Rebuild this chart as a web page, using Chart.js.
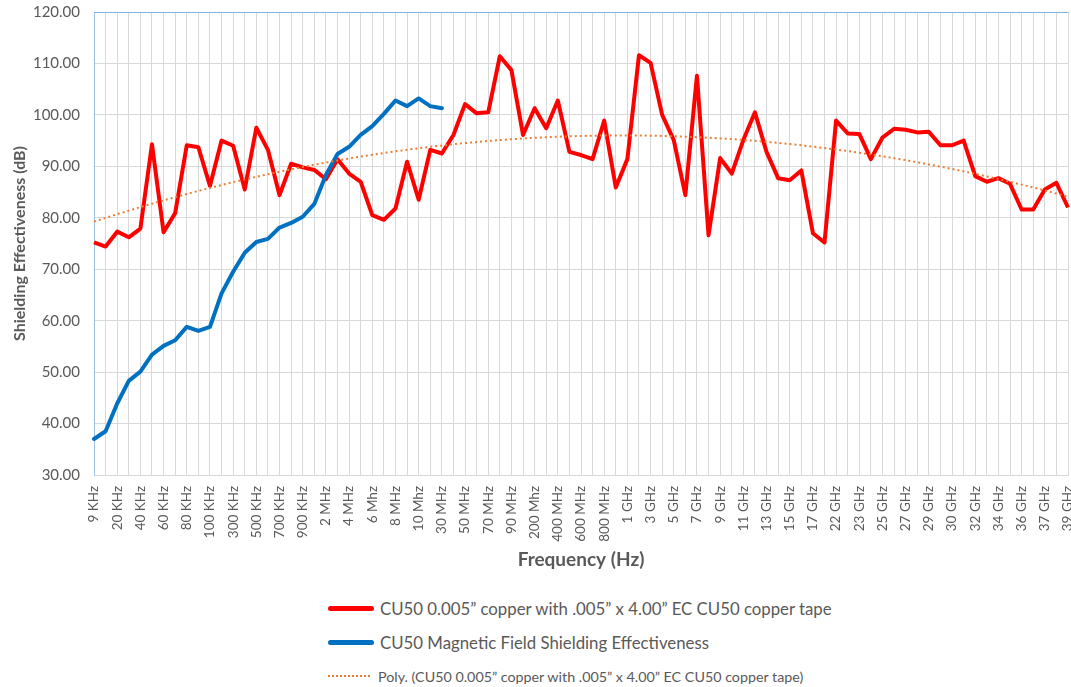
<!DOCTYPE html>
<html>
<head>
<meta charset="utf-8">
<script src="https://cdn.jsdelivr.net/npm/chart.js@4.4.1/dist/chart.umd.min.js"></script>
<style>
  body { margin: 0; background: #fff; width: 1071px; height: 687px; overflow: hidden; position: relative; font-family: Lato, "Open Sans", sans-serif; }
  #chart { position: absolute; left: 0; top: 0; }
  #legend { position: absolute; left: 328px; top: 591px; color: #595959; }
  .item { display: flex; align-items: center; height: 34px; white-space: nowrap; }
  .swatch { width: 46px; height: 0; margin-right: 6px; }
  .solid { border-top: 5px solid; border-radius: 3px; }
  .dotted { border-top: 2px dotted; width: 42px; margin-right: 8px; }
</style>
</head>
<body>
<canvas id="chart" width="1071" height="580"></canvas>
<div id="legend"></div>
<script>
// x categories (every other one is labelled on the axis)
const categories = [
  "9 KHz", "10 KHz", "20 KHz", "30 KHz", "40 KHz", "50 KHz", "60 KHz", "70 KHz", "80 KHz", "90 KHz",
  "100 KHz", "200 KHz", "300 KHz", "400 KHz", "500 KHz", "600 KHz", "700 KHz", "800 KHz", "900 KHz", "1 MHz",
  "2 MHz", "3 MHz", "4 MHz", "5 Mhz", "6 Mhz", "7 Mhz", "8 MHz", "9 Mhz", "10 Mhz", "20 MHz",
  "30 MHz", "40 MHz", "50 MHz", "60 MHz", "70 MHz", "80 MHz", "90 MHz", "100 MHz", "200 Mhz", "300 MHz",
  "400 MHz", "500 MHz", "600 MHz", "700 MHz", "800 MHz", "900 MHz", "1 GHz", "2 GHz", "3 GHz", "4 GHz",
  "5 GHz", "6 GHz", "7 GHz", "8 GHz", "9 GHz", "10 GHz", "11 GHz", "12 GHz", "13 GHz", "14 GHz",
  "15 GHz", "16 GHz", "17 GHz", "18 GHz", "22 GHz", "22.5 GHz", "23 GHz", "24 GHz", "25 GHz", "26 GHz",
  "27 GHz", "28 GHz", "29 GHz", "29.5 GHz", "30 GHz", "31 GHz", "32 GHz", "33 GHz", "34 GHz", "35 GHz",
  "36 GHz", "36.5 GHz", "37 GHz", "38 GHz", "39 GHz"
];

const copperTape = [
  75.2, 74.4, 77.3, 76.2, 77.9, 94.3, 77.2, 80.9, 94.1, 93.7,
  86.2, 95.0, 94.0, 85.5, 97.5, 93.2, 84.4, 90.5, 89.8, 89.3,
  87.5, 91.4, 88.6, 87.0, 80.5, 79.6, 81.8, 90.9, 83.5, 93.2,
  92.5, 96.1, 102.1, 100.3, 100.5, 111.4, 108.7, 96.1, 101.3, 97.4,
  102.8, 92.8, 92.2, 91.4, 98.9, 85.9, 91.4, 111.6, 110.1, 100.0,
  95.1, 84.4, 107.6, 76.6, 91.6, 88.6, 95.1, 100.5, 92.8, 87.7,
  87.3, 89.2, 77.0, 75.2, 98.9, 96.4, 96.3, 91.4, 95.6, 97.3,
  97.1, 96.6, 96.7, 94.1, 94.1, 95.0, 88.1, 87.0, 87.7, 86.6,
  81.6, 81.6, 85.5, 86.8, 82.0
];

// measured only up to 30 MHz
const magneticField = [
  37.0, 38.5, 43.9, 48.3, 50.1, 53.4, 55.1, 56.2, 58.8, 58.0,
  58.8, 65.3, 69.5, 73.2, 75.3, 75.9, 78.1, 79.0, 80.2, 82.7,
  88.3, 92.4, 93.8, 96.1, 97.8, 100.2, 102.8, 101.7, 103.2, 101.7,
  101.3
];

const seriesNames = [
  "CU50 0.005\u201d copper with .005\u201d x 4.00\u201d EC CU50 copper tape",
  "CU50 Magnetic Field Shielding Effectiveness",
  "Poly. (CU50 0.005\u201d copper with .005\u201d x 4.00\u201d EC CU50 copper tape)"
];

const yMin = 30, yMax = 120, yStep = 10;

// polynomial trendline (least squares, like Excel's "Poly." trendline)
function polyTrend(ys, order) {
  const n = order + 1;
  const A = [];
  for (let r = 0; r < n; r++) A.push(new Array(n + 1).fill(0));
  ys.forEach((y, i) => {
    const x = i + 1;
    for (let r = 0; r < n; r++) {
      for (let c = 0; c < n; c++) A[r][c] += Math.pow(x, r + c);
      A[r][n] += y * Math.pow(x, r);
    }
  });
  for (let k = 0; k < n; k++) {
    let p = k;
    for (let r = k + 1; r < n; r++) if (Math.abs(A[r][k]) > Math.abs(A[p][k])) p = r;
    [A[k], A[p]] = [A[p], A[k]];
    for (let r = 0; r < n; r++) {
      if (r === k) continue;
      const f = A[r][k] / A[k][k];
      for (let c = k; c <= n; c++) A[r][c] -= f * A[k][c];
    }
  }
  const coef = A.map((row, k) => row[n] / row[k]);
  return ys.map((_, i) => coef.reduce((s, a, p) => s + a * Math.pow(i + 1, p), 0));
}

const trend = polyTrend(copperTape, 2);

const grey = "#595959";

const chart = new Chart(document.getElementById("chart"), {
  type: "line",
  data: {
    labels: categories,
    datasets: [
      {
        label: seriesNames[2],
        data: trend,
        borderColor: "#ed7d31",
        borderWidth: 2,
        borderDash: [2, 3],
        pointRadius: 0,
        order: 0
      },
      {
        label: seriesNames[0],
        data: copperTape,
        borderColor: "#ff0000",
        borderWidth: 4,
        pointRadius: 0,
        borderJoinStyle: "round",
        order: 2
      },
      {
        label: seriesNames[1],
        data: magneticField,
        borderColor: "#0070c0",
        borderWidth: 4,
        pointRadius: 0,
        borderJoinStyle: "round",
        borderCapStyle: "round",
        order: 1
      }
    ]
  },
  options: {
    responsive: false,
    animation: false,
    layout: { padding: { top: 12, right: 3, left: 0, bottom: 0 } },
    plugins: {
      legend: { display: false },
      tooltip: { enabled: false }
    },
    scales: {
      x: {
        offset: false,
        grid: { color: "#d9d9d9", offset: false, drawTicks: false },
        border: { color: "#d9d9d9" },
        ticks: {
          autoSkip: false,
          minRotation: 90,
          maxRotation: 90,
          padding: 11,
          color: grey,
          font: { family: "Lato", size: 13.5 },
          callback: (v, i) => (i % 2 === 0 ? categories[i] : "")
        },
        title: {
          display: true,
          text: "Frequency (Hz)",
          color: grey,
          font: { family: "Lato", size: 19, weight: "bold" },
          padding: { top: 0, bottom: 9 }
        },
        afterFit: (s) => { s.height = 105; s.paddingLeft = 0; s.paddingRight = 0; }
      },
      y: {
        min: yMin,
        max: yMax,
        grid: {
          color: (c) => (c.tick && c.tick.value === yMax ? "#7fb2e0" : "#d9d9d9"),
          drawTicks: false
        },
        border: { color: "#9dc3e6" },
        ticks: {
          stepSize: yStep,
          padding: 14,
          color: grey,
          font: { family: "Lato", size: 15 },
          callback: (v) => v.toFixed(2)
        },
        title: {
          display: true,
          text: "Shielding Effectiveness (dB)",
          color: grey,
          font: { family: "Lato", size: 16, weight: "bold" },
          padding: { top: 10, bottom: 6 }
        },
        afterFit: (s) => { s.width = 94; s.paddingTop = 0; s.paddingBottom = 0; }
      }
    }
  }
});

// legend, stacked like the original
const legend = document.getElementById("legend");
[1, 2, 0].forEach((di, k) => {
  const ds = chart.data.datasets[di];
  const item = document.createElement("div");
  item.className = "item";
  const sw = document.createElement("span");
  sw.className = "swatch " + (ds.borderDash ? "dotted" : "solid");
  sw.style.borderTopColor = ds.borderColor;
  const txt = document.createElement("span");
  txt.textContent = ds.label;
  txt.style.fontSize = k === 2 ? "14.3px" : "16.8px";
  item.appendChild(sw);
  item.appendChild(txt);
  legend.appendChild(item);
});
</script>
</body>
</html>
